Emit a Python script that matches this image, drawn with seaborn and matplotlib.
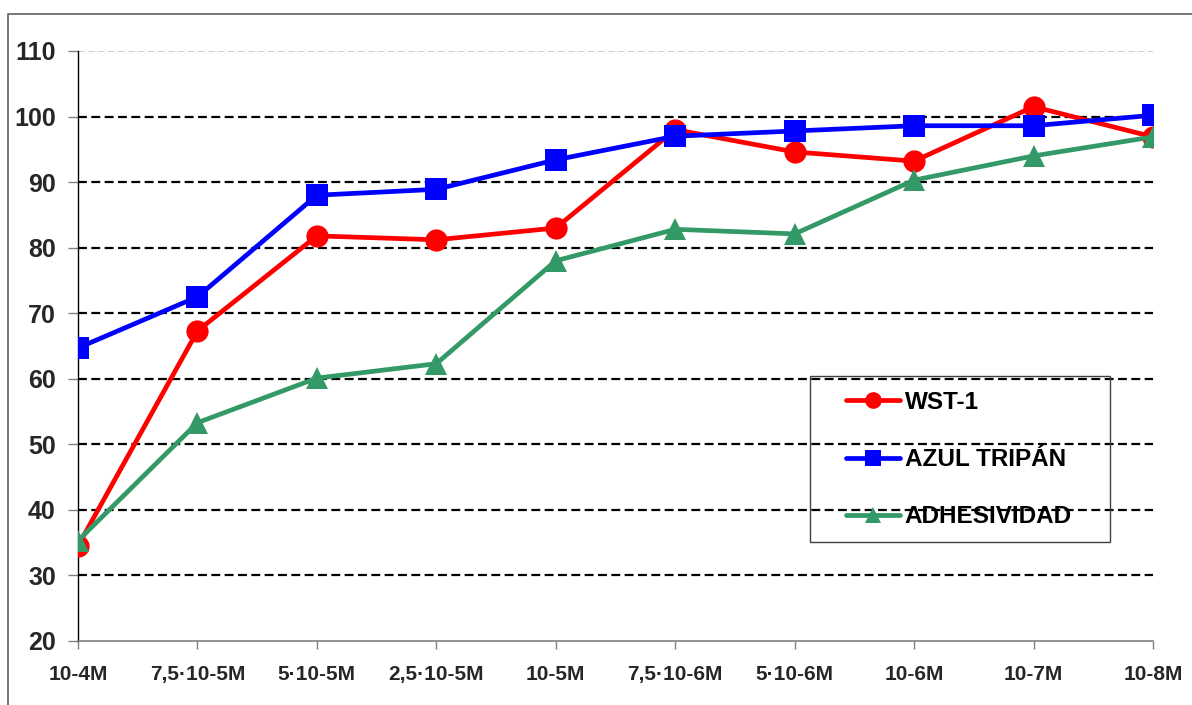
import matplotlib
matplotlib.use("Agg")
import matplotlib.pyplot as plt
from matplotlib.patches import Rectangle
import seaborn as sns
import pandas as pd

# Concentration levels (x categories)
concentrations = ["10-4M", "7,5·10-5M", "5·10-5M", "2,5·10-5M", "10-5M",
                  "7,5·10-6M", "5·10-6M", "10-6M", "10-7M", "10-8M"]

# Series values (% relative to control)
wst1 = [34.5, 67.3, 81.8, 81.2, 83.0, 98.0, 94.6, 93.2, 101.5, 96.9]
azul_tripan = [64.7, 72.5, 88.0, 88.9, 93.4, 97.0, 97.8, 98.6, 98.6, 100.2]
adhesividad = [35.3, 53.3, 60.1, 62.3, 78.0, 82.8, 82.1, 90.3, 94.0, 96.9]

series_names = ["WST-1", "AZUL TRIPÁN", "ADHESIVIDAD"]
series_values = [wst1, azul_tripan, adhesividad]
colors = ["#FF0000", "#0000FF", "#339966"]
markers = ["o", "s", "^"]
marker_sizes = [16, 16, 16]

y_ticks = [20, 30, 40, 50, 60, 70, 80, 90, 100, 110]

sns.set_theme(style="white")
plt.rcParams["font.family"] = ["Liberation Sans", "DejaVu Sans"]
plt.rcParams["font.weight"] = "bold"

rows = []
for name, vals in zip(series_names, series_values):
    for i, v in enumerate(vals):
        rows.append({"pos": i, "value": v, "serie": name})
df = pd.DataFrame(rows)

W, H = 1192, 705
fig = plt.figure(figsize=(W / 100, H / 100), dpi=100)
ax = fig.add_axes([78 / W, 1 - 641 / H, (1153 - 78) / W, (641 - 51) / H])

# Dashed horizontal grid
for y in y_ticks[1:-1]:
    ax.axhline(y, color="black", lw=1.6, ls=(0, (4, 2)), zorder=1)
ax.axhline(110, color="#c8c8c8", lw=1.2, ls=(0, (4, 2)), zorder=1)

for name, col, mk, ms in zip(series_names, colors, markers, marker_sizes):
    sub = df[df["serie"] == name]
    sns.lineplot(data=sub, x="pos", y="value", ax=ax, color=col, lw=3.4,
                 marker=mk, markersize=ms, markeredgewidth=0,
                 label=name, zorder=3)

ax.set_xlim(0, 9)
ax.set_ylim(20, 110)
ax.set_xticks(range(len(concentrations)))
ax.set_xticklabels(concentrations)
ax.set_yticks(y_ticks)
ax.set_xlabel("")
ax.set_ylabel("")

for lab in ax.get_xticklabels():
    lab.set_fontsize(15)
    lab.set_fontweight("bold")
for lab in ax.get_yticklabels():
    lab.set_fontsize(18)
    lab.set_fontweight("bold")

ax.tick_params(axis="x", direction="out", length=6, width=1, color="#808080", pad=11)
ax.tick_params(axis="y", direction="out", length=7, width=1, color="#808080", pad=9)
ax.tick_params(bottom=True, left=True)

ax.spines["top"].set_visible(False)
ax.spines["right"].set_visible(False)
ax.spines["left"].set_color("black")
ax.spines["left"].set_linewidth(1)
ax.spines["bottom"].set_color("#808080")
ax.spines["bottom"].set_linewidth(1.2)

# Legend entries placed without frame; box drawn separately
leg = ax.legend(loc="upper left",
                bbox_to_anchor=((846 - 78) / 1075, (641 - 391) / 590),
                frameon=False,
                prop={"family": "Liberation Sans", "weight": "bold", "size": 17.5},
                labelspacing=1.4, handlelength=2.22, handletextpad=0.2,
                borderpad=0, borderaxespad=0, markerscale=0.75)
for t in leg.get_texts():
    t.set_color("black")

ax.add_patch(Rectangle(((810 - 78) / 1075, (641 - 542) / 590),
                       (1110 - 810) / 1075, (542 - 376) / 590,
                       transform=ax.transAxes, fill=False,
                       edgecolor="#404040", lw=1, zorder=4))

# Outer chart border
fig.patches.append(Rectangle((8 / W, -0.05), 1.1, 1 - 14 / H + 0.05,
                             transform=fig.transFigure, fill=False,
                             edgecolor="#606060", lw=1.2))

fig.savefig("out.png", dpi=100)
